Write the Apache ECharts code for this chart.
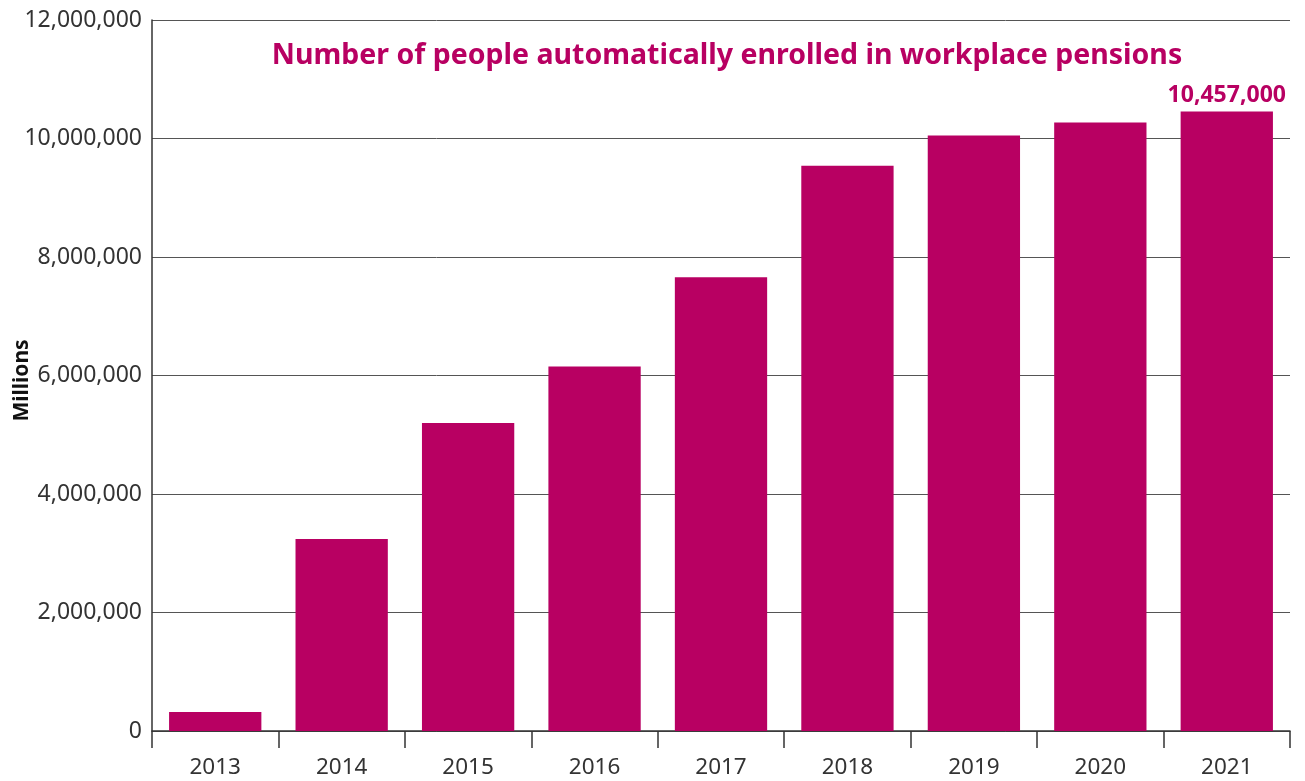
<!DOCTYPE html>
<html>
<head>
<meta charset="utf-8">
<script src="https://cdn.jsdelivr.net/npm/echarts@6/dist/echarts.min.js"></script>
<style>
  html, body { margin: 0; padding: 0; background: #fff; }
  #chart { width: 1305px; height: 781px; }
</style>
</head>
<body>
<div id="chart"></div>
<script>
  // data
  var years = ['2013', '2014', '2015', '2016', '2017', '2018', '2019', '2020', '2021'];
  var enrolled = [320000, 3240000, 5200000, 6150000, 7660000, 9540000, 10050000, 10270000, 10457000];
  var yTicks = [0, 2000000, 4000000, 6000000, 8000000, 10000000, 12000000];

  var barColor = '#b80062';

  var chart = echarts.init(document.getElementById('chart'));
  chart.setOption({
    animation: false,
    title: {
      text: 'Number of people automatically enrolled in workplace pensions',
      left: 722,
      textAlign: 'center',
      top: 36,
      textStyle: {
        color: barColor,
        fontFamily: 'Noto Sans',
        fontWeight: 'bold',
        fontSize: 28.5
      }
    },
    grid: { left: 152, right: 15, top: 20, bottom: 50, outerBoundsMode: 'none' },
    xAxis: {
      type: 'category',
      data: years,
      axisLine: { lineStyle: { color: '#333', width: 1.5 } },
      axisTick: { show: true, length: 17, lineStyle: { color: '#333', width: 1.5 } },
      axisLabel: { color: '#333', fontSize: 22.5, fontFamily: 'Noto Sans', margin: 25 }
    },
    yAxis: {
      type: 'value',
      min: yTicks[0],
      max: yTicks[yTicks.length - 1],
      interval: 2000000,
      name: 'Millions',
      nameLocation: 'middle',
      nameGap: 119,
      nameMoveOverlap: false,
      nameTextStyle: { color: '#111', fontSize: 21, fontWeight: 'bold', fontFamily: 'Noto Sans', padding: [0, 10, 0, 0] },
      axisLine: { show: true, lineStyle: { color: '#333', width: 1.5 } },
      axisTick: { show: false },
      splitLine: { lineStyle: { color: '#555', width: 1 } },
      axisLabel: {
        color: '#333', fontSize: 23, fontFamily: 'Noto Sans', margin: 10,
        formatter: function (v) { return v.toLocaleString('en-GB'); }
      }
    },
    series: [{
      type: 'bar',
      data: enrolled.map(function (v, i) {
        var item = { value: v };
        if (i === enrolled.length - 1) {
          item.label = {
            show: true, position: 'top', distance: 4,
            color: barColor, fontSize: 23, fontWeight: 'bold', fontFamily: 'Noto Sans',
            formatter: function (p) { return p.value.toLocaleString('en-GB'); }
          };
        }
        return item;
      }),
      barCategoryGap: '27%',
      itemStyle: { color: barColor }
    }]
  });
</script>
</body>
</html>
